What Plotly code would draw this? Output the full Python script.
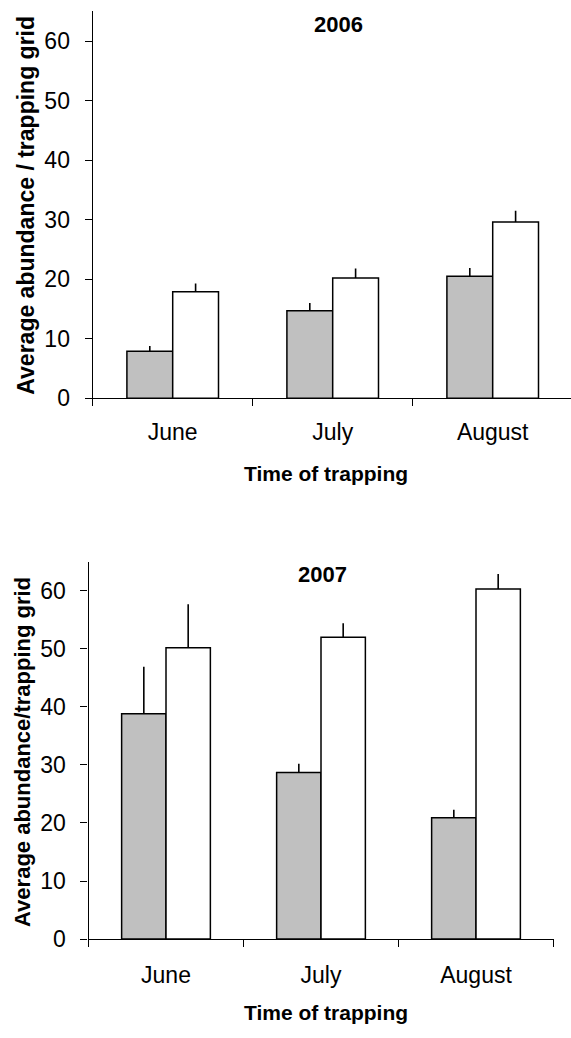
import plotly.graph_objects as go

# Trapping months (x categories)
months = ["June", "July", "August"]

# 2006 season: mean abundance and standard error per grid type
gray_2006 = [7.9, 14.7, 20.5]
gray_2006_err = [0.9, 1.3, 1.4]
white_2006 = [17.9, 20.2, 29.6]
white_2006_err = [1.4, 1.6, 1.9]

# 2007 season
gray_2007 = [38.8, 28.7, 20.9]
gray_2007_err = [8.1, 1.5, 1.4]
white_2007 = [50.2, 52.0, 60.3]
white_2007_err = [7.5, 2.4, 2.6]

y_ticks = [0, 10, 20, 30, 40, 50, 60]

W, H = 571, 1038
FONT = "Liberation Sans, Arial, sans-serif"
GRAY = "#c0c0c0"


def bar(values, errors, fill, xa, ya):
    return go.Bar(
        x=months,
        y=values,
        xaxis=xa,
        yaxis=ya,
        marker=dict(color=fill, line=dict(color="black", width=1.5)),
        error_y=dict(
            type="data",
            symmetric=False,
            array=errors,
            arrayminus=[0] * len(errors),
            color="black",
            thickness=1.6,
            width=0,
        ),
        showlegend=False,
        hoverinfo="skip",
    )


fig = go.Figure()
fig.add_trace(bar(gray_2006, gray_2006_err, GRAY, "x", "y"))
fig.add_trace(bar(white_2006, white_2006_err, "white", "x", "y"))
fig.add_trace(bar(gray_2007, gray_2007_err, GRAY, "x2", "y2"))
fig.add_trace(bar(white_2007, white_2007_err, "white", "x2", "y2"))

axis_common = dict(
    showline=True,
    linecolor="black",
    linewidth=1.3,
    ticks="outside",
    ticklen=7,
    tickwidth=1.3,
    tickcolor="black",
    showgrid=False,
    zeroline=False,
    tickfont=dict(family=FONT, size=23, color="black"),
    fixedrange=True,
)

fig.update_layout(
    width=W,
    height=H,
    margin=dict(l=0, r=0, t=0, b=0),
    paper_bgcolor="white",
    plot_bgcolor="white",
    barmode="group",
    bargap=0.4275,
    bargroupgap=0,
    showlegend=False,
    font=dict(family=FONT, color="black"),
    xaxis=dict(
        axis_common,
        domain=[92.7 / W, 1.0],
        anchor="y",
        type="category",
        range=[-0.5, -0.5 + 478.3 / 160],
        tickson="boundaries",
        ticklabelstandoff=13,
    ),
    yaxis=dict(
        axis_common,
        domain=[1 - 403.3 / H, 1 - 11.6 / H],
        anchor="x",
        range=[0, 65],
        tickvals=y_ticks,
        ticklabelstandoff=10,
    ),
    xaxis2=dict(
        axis_common,
        domain=[88.5 / W, 553.5 / W],
        anchor="y2",
        type="category",
        range=[-0.5, 2.5],
        tickson="boundaries",
        ticklabelstandoff=15,
    ),
    yaxis2=dict(
        axis_common,
        domain=[1 - 951 / H, 1 - 568.9 / H],
        anchor="x2",
        range=[0, 65],
        tickvals=y_ticks,
        ticklabelstandoff=10,
    ),
)

annotations = [
    # panel titles
    dict(text="<b>2006</b>", x=338.3 / W, y=1 - 25 / H, size=22, angle=0),
    dict(text="<b>2007</b>", x=322.7 / W, y=1 - 581.7 / H, size=22, angle=0),
    # x-axis titles
    dict(text="<b>Time of trapping</b>", x=326 / W, y=1 - 480 / H, size=21, angle=0),
    dict(text="<b>Time of trapping</b>", x=325.7 / W, y=1 - 1025 / H, size=21, angle=0),
    # y-axis titles
    dict(text="<b>Average abundance / trapping grid</b>", x=26 / W, y=1 - 208.3 / H, size=23, angle=-90),
    dict(text="<b>Average abundance/trapping grid</b>", x=23 / W, y=1 - 761.5 / H, size=22, angle=-90),
]
for a in annotations:
    fig.add_annotation(
        text=a["text"],
        x=a["x"],
        y=a["y"],
        xref="paper",
        yref="paper",
        xanchor="center",
        yanchor="middle",
        showarrow=False,
        textangle=a["angle"],
        font=dict(family=FONT, size=a["size"], color="black"),
    )

fig.write_html("out.html")
